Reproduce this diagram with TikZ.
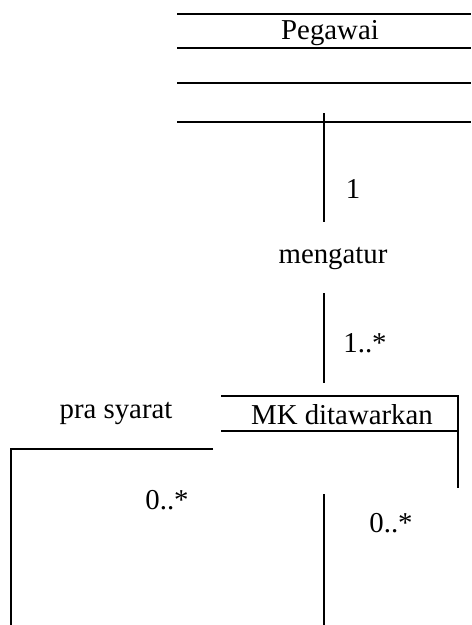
\documentclass[tikz,border=0pt]{standalone}
\usepackage{fontspec}
\setmainfont{Liberation Serif}
\begin{document}
\begin{tikzpicture}
        [x=0.02cm, y=-0.02cm,
        line/.style={line width=1.1pt},
        label/.style={font=\fontsize{16.4}{19}\selectfont, inner sep=0pt}]
        \useasboundingbox (0,0) rectangle (471,625);
        % class Pegawai
        \coordinate (P1) at (177,14);
        \coordinate (P1r) at (471,14);
        \coordinate (P2) at (177,48);
        \coordinate (P2r) at (471,48);
        \coordinate (P3) at (177,83);
        \coordinate (P3r) at (471,83);
        \coordinate (P4) at (177,122);
        \coordinate (P4r) at (471,122);
        \node[label] (peg) at (330,33) {Pegawai};
        % class MK ditawarkan
        \coordinate (M1) at (221,396);
        \coordinate (M1r) at (458,396);
        \coordinate (M2) at (221,431);
        \coordinate (M2r) at (458,431);
        \coordinate (M3r) at (458,488);
        \node[label] (mk) at (342,415) {MK ditawarkan};
        % association ends
        \coordinate (A1) at (324,113);
        \coordinate (A2) at (324,222);
        \coordinate (B1) at (324,293);
        \coordinate (B2) at (324,383);
        \coordinate (C1) at (213,449);
        \coordinate (C2) at (11,449);
        \coordinate (C3) at (11,625);
        \coordinate (D1) at (324,494);
        \coordinate (D2) at (324,625);

        \node[label] (one) at (353,189) {1};
        \node[label] (assoc) at (333,258) {mengatur};
        \node[label] (many) at (365,343) {1..*};
        \node[label] (pra) at (116,413) {pra syarat};
        \node[label] (zeroL) at (167,500) {0..*};
        \node[label] (zeroR) at (391,523) {0..*};

        \draw[line] (P1) -- (P1r);
        \draw[line] (P2) -- (P2r);
        \draw[line] (P3) -- (P3r);
        \draw[line] (P4) -- (P4r);
        \draw[line] (A1) -- (A2);
        \draw[line] (B1) -- (B2);
        \draw[line] (M1) -- (M1r) -- (M3r);
        \draw[line] (M2) -- (M2r);
        \draw[line] (C1) -- (C2) -- (C3);
        \draw[line] (D1) -- (D2);
    \end{tikzpicture}
\end{document}
